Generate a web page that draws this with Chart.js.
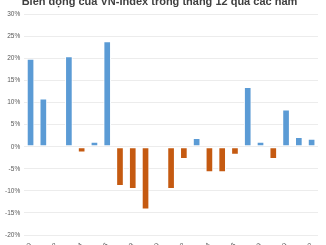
<!DOCTYPE html>
<html>
<head>
<meta charset="utf-8">
<script src="https://cdn.jsdelivr.net/npm/chart.js@4/dist/chart.umd.min.js"></script>
<style>
html,body{margin:0;padding:0;background:#fff;overflow:hidden;width:326px;height:245px;}
#wrap{position:absolute;left:0;top:-9px;width:326px;height:273px;}
</style>
</head>
<body>
<div id="wrap"><canvas id="c"></canvas></div>
<script>
const titleText = "Biến động của VN-Index trong tháng 12 qua các năm";
const years = ["2000","2001","2002","2003","2004","2005","2006","2007","2008","2009","2010","2011","2012","2013","2014","2015","2016","2017","2018","2019","2020","2021","2022"];
const changes = [19.9, 10.9, -0.2, 20.5, -1.3, 1.1, 23.9, -8.9, -9.6, -14.2, -0.3, -9.6, -2.8, 2.0, -5.8, -5.8, -1.8, 13.5, 1.1, -2.8, 8.4, 2.2, 1.8];
const yTicks = [30, 25, 20, 15, 10, 5, 0, -5, -10, -15, -20];

const POS = '#5B9BD5', NEG = '#C55A11';
new Chart(document.getElementById('c'), {
  type: 'bar',
  data: {
    labels: years,
    datasets: [{
      data: changes,
      backgroundColor: ctx => (ctx.raw >= 0 ? POS : NEG),
      borderColor: '#ffffff',
      borderWidth: 1,
      borderSkipped: false,
      categoryPercentage: 1,
      barPercentage: 0.6
    }]
  },
  options: {
    responsive: true,
    maintainAspectRatio: false,
    animation: false,
    layout: { padding: { left: 1, right: 8, top: 0, bottom: 0 } },
    plugins: {
      legend: { display: false },
      tooltip: { enabled: false },
      title: {
        display: true,
        text: titleText,
        color: '#404040',
        font: { family: 'Liberation Sans', size: 11, weight: 'bold' },
        padding: { top: 4, bottom: 6 }
      }
    },
    scales: {
      x: {
        grid: { display: false, drawTicks: false },
        border: { display: false },
        ticks: {
          autoSkip: false,
          maxRotation: 45,
          minRotation: 45,
          padding: 6,
          color: '#595959',
          font: { family: 'Liberation Sans', size: 7 },
          callback: function(v, i) { return i % 2 === 0 ? years[i] : ''; }
        }
      },
      y: {
        min: Math.min(...yTicks),
        max: Math.max(...yTicks),
        afterBuildTicks: axis => { axis.ticks = yTicks.map(v => ({ value: v })); },
        grid: { color: '#ececec', lineWidth: 1, drawTicks: false },
        border: { display: false },
        ticks: {
          padding: 4,
          color: '#595959',
          font: { family: 'Liberation Sans', size: 6.5 },
          callback: v => v + '%'
        }
      }
    }
  }
});
</script>
</body>
</html>
